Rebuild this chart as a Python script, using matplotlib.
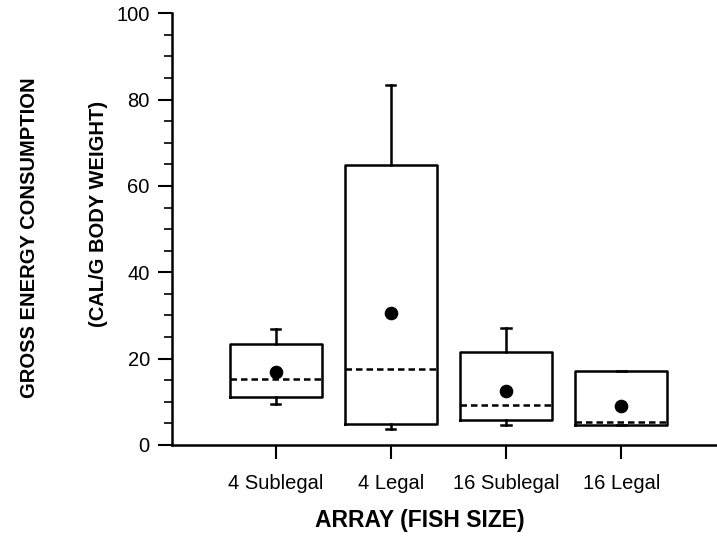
import matplotlib
matplotlib.use("Agg")
import matplotlib.pyplot as plt
from matplotlib.ticker import MultipleLocator

plt.rcParams['font.family'] = ['Liberation Sans', 'DejaVu Sans']

categories = ["4 Sublegal", "4 Legal", "16 Sublegal", "16 Legal"]
q1 = [11.1, 4.9, 5.9, 4.6]
q3 = [23.5, 64.9, 21.5, 17.1]
medians = [15.4, 17.7, 9.3, 5.4]
means = [16.8, 30.6, 12.6, 9.1]
whis_lo = [9.6, 3.7, 4.7, 4.6]
whis_hi = [26.8, 83.4, 27.0, 17.1]

stats = []
for i, c in enumerate(categories):
    stats.append(dict(label=c, q1=q1[i], q3=q3[i], med=medians[i], mean=means[i],
                      whislo=whis_lo[i], whishi=whis_hi[i], fliers=[]))

fig = plt.figure(figsize=(7.17, 5.46), dpi=100)
ax = fig.add_axes([172/717, 101/546, 1 - 172/717, (445-13.3)/546])

lw = 1.8
ax.bxp(stats, positions=[1, 2, 3, 4], widths=0.8, showmeans=True,
       boxprops=dict(color='black', linewidth=lw),
       whiskerprops=dict(color='black', linewidth=lw),
       capprops=dict(color='black', linewidth=lw),
       capwidths=0.08,
       medianprops=dict(color='black', linewidth=lw, linestyle=(0, (2.6, 1.6))),
       meanprops=dict(marker='o', markerfacecolor='black', markeredgecolor='black', markersize=8.8))

ax.set_xlim(0.1, 0.1 + (717 - 172) / 115.2)
ax.set_ylim(0, 100)
ax.spines['top'].set_visible(False)
ax.spines['right'].set_visible(False)
ax.spines['left'].set_linewidth(lw)
ax.spines['bottom'].set_linewidth(lw)
ax.yaxis.set_major_locator(MultipleLocator(20))
ax.yaxis.set_minor_locator(MultipleLocator(5))
ax.tick_params(axis='y', which='major', length=10, width=1.5, labelsize=14.5, pad=6)
ax.tick_params(axis='y', which='minor', length=6, width=1.2)
ax.tick_params(axis='x', which='major', length=10, width=1.5, labelsize=14.5, pad=11)
ax.set_xticks([1, 2, 3, 4])
ax.set_xticklabels(categories)

fig.text(420/717, 1 - 521/546, "ARRAY (FISH SIZE)", ha='center', va='center',
         fontsize=16.5, fontweight='bold')
fig.text(30/717, 1 - 238/546, "GROSS ENERGY CONSUMPTION", rotation=90, ha='center', va='center',
         fontsize=14.5, fontweight='bold')
fig.text(99/717, 1 - 214/546, "(CAL/G BODY WEIGHT)", rotation=90, ha='center', va='center',
         fontsize=14.5, fontweight='bold')

fig.savefig("out.png", dpi=100)
